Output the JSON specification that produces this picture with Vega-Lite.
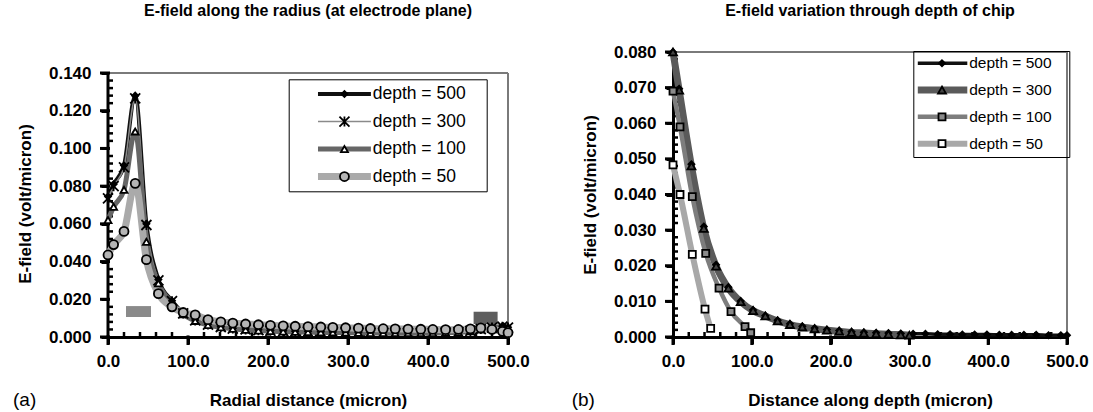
{
  "$schema": "https://vega.github.io/schema/vega-lite/v6.json",
  "padding": {"left": 13, "top": 3, "right": 5, "bottom": 5},
  "spacing": 41,
  "resolve": {"scale": {"color": "independent", "strokeWidth": "independent", "shape": "independent", "fill": "independent", "size": "independent"}, "legend": {"color": "independent", "strokeWidth": "independent", "shape": "independent", "fill": "independent", "size": "independent"}},
  "config": {
    "view": {"stroke": null},
    "font": "Liberation Sans",
    "axis": {"ticks": true, "domainColor": "black", "domainWidth": 3, "tickColor": "black", "tickOpacity": 1, "tickWidth": 3, "tickSize": 7, "labelFont": "Liberation Sans", "labelFontSize": 17, "labelFontWeight": "bold", "labelColor": "black", "titleFont": "Liberation Sans", "titleFontSize": 17, "titleFontWeight": "bold", "titleColor": "black", "grid": false, "labelFlush": false, "labelOverlap": false},
    "axisX": {"labelPadding": 9, "titlePadding": 23},
    "axisY": {"labelPadding": 10, "titlePadding": 14},
    "title": {"font": "Liberation Sans", "fontSize": 16, "fontWeight": "bold", "color": "black", "frame": "group", "anchor": "middle"}
  },
  "datasets": {
    "xMajor": [{"v":0},{"v":100},{"v":200},{"v":300},{"v":400},{"v":500}],
    "xMinor": [{"v":20},{"v":40},{"v":60},{"v":80},{"v":120},{"v":140},{"v":160},{"v":180},{"v":220},{"v":240},{"v":260},{"v":280},{"v":320},{"v":340},{"v":360},{"v":380},{"v":420},{"v":440},{"v":460},{"v":480}],
    "yLeftMajor": [{"v":0},{"v":0.02},{"v":0.04},{"v":0.06},{"v":0.08},{"v":0.1},{"v":0.12},{"v":0.14}],
    "yLeftMinor": [{"v":0.004},{"v":0.008},{"v":0.012},{"v":0.016},{"v":0.024},{"v":0.028},{"v":0.032},{"v":0.036},{"v":0.044},{"v":0.048},{"v":0.052},{"v":0.056},{"v":0.064},{"v":0.068},{"v":0.072},{"v":0.076},{"v":0.084},{"v":0.088},{"v":0.092},{"v":0.096},{"v":0.104},{"v":0.108},{"v":0.112},{"v":0.116},{"v":0.124},{"v":0.128},{"v":0.132},{"v":0.136}],
    "yRightMajor": [{"v":0},{"v":0.01},{"v":0.02},{"v":0.03},{"v":0.04},{"v":0.05},{"v":0.06},{"v":0.07},{"v":0.08}],
    "yRightMinor": [{"v":0.002},{"v":0.004},{"v":0.006},{"v":0.008},{"v":0.012},{"v":0.014},{"v":0.016},{"v":0.018},{"v":0.022},{"v":0.024},{"v":0.026},{"v":0.028},{"v":0.032},{"v":0.034},{"v":0.036},{"v":0.038},{"v":0.042},{"v":0.044},{"v":0.046},{"v":0.048},{"v":0.052},{"v":0.054},{"v":0.056},{"v":0.058},{"v":0.062},{"v":0.064},{"v":0.066},{"v":0.068},{"v":0.072},{"v":0.074},{"v":0.076},{"v":0.078}],
    "radial": [
      {"series":"depth = 500","depth":500,"x":0,"y":0.0745},{"series":"depth = 500","depth":500,"x":7,"y":0.081},{"series":"depth = 500","depth":500,"x":20,"y":0.091},{"series":"depth = 500","depth":500,"x":34,"y":0.128},{"series":"depth = 500","depth":500,"x":48,"y":0.060},{"series":"depth = 500","depth":500,"x":63,"y":0.0305},{"series":"depth = 500","depth":500,"x":80,"y":0.0192},{"series":"depth = 500","depth":500,"x":94,"y":0.0127},{"series":"depth = 500","depth":500,"x":109,"y":0.0090},{"series":"depth = 500","depth":500,"x":125,"y":0.0068},{"series":"depth = 500","depth":500,"x":141,"y":0.0055},{"series":"depth = 500","depth":500,"x":156,"y":0.0047},{"series":"depth = 500","depth":500,"x":172,"y":0.0042},{"series":"depth = 500","depth":500,"x":188,"y":0.0038},{"series":"depth = 500","depth":500,"x":203,"y":0.0035},{"series":"depth = 500","depth":500,"x":219,"y":0.0033},{"series":"depth = 500","depth":500,"x":234,"y":0.0031},{"series":"depth = 500","depth":500,"x":250,"y":0.0029},{"series":"depth = 500","depth":500,"x":266,"y":0.0028},{"series":"depth = 500","depth":500,"x":281,"y":0.0027},{"series":"depth = 500","depth":500,"x":297,"y":0.0026},{"series":"depth = 500","depth":500,"x":313,"y":0.0025},{"series":"depth = 500","depth":500,"x":328,"y":0.0024},{"series":"depth = 500","depth":500,"x":344,"y":0.0024},{"series":"depth = 500","depth":500,"x":359,"y":0.0023},{"series":"depth = 500","depth":500,"x":375,"y":0.0023},{"series":"depth = 500","depth":500,"x":391,"y":0.0023},{"series":"depth = 500","depth":500,"x":406,"y":0.0024},{"series":"depth = 500","depth":500,"x":422,"y":0.0025},{"series":"depth = 500","depth":500,"x":438,"y":0.0028},{"series":"depth = 500","depth":500,"x":453,"y":0.0034},{"series":"depth = 500","depth":500,"x":466,"y":0.0044},{"series":"depth = 500","depth":500,"x":480,"y":0.0052},{"series":"depth = 500","depth":500,"x":493,"y":0.0057},{"series":"depth = 500","depth":500,"x":500,"y":0.0052},
      {"series":"depth = 300","depth":300,"x":0,"y":0.0735},{"series":"depth = 300","depth":300,"x":7,"y":0.080},{"series":"depth = 300","depth":300,"x":20,"y":0.090},{"series":"depth = 300","depth":300,"x":34,"y":0.1265},{"series":"depth = 300","depth":300,"x":48,"y":0.0594},{"series":"depth = 300","depth":300,"x":63,"y":0.030},{"series":"depth = 300","depth":300,"x":80,"y":0.019},{"series":"depth = 300","depth":300,"x":94,"y":0.0125},{"series":"depth = 300","depth":300,"x":109,"y":0.0088},{"series":"depth = 300","depth":300,"x":125,"y":0.0066},{"series":"depth = 300","depth":300,"x":141,"y":0.0053},{"series":"depth = 300","depth":300,"x":156,"y":0.0045},{"series":"depth = 300","depth":300,"x":172,"y":0.0040},{"series":"depth = 300","depth":300,"x":188,"y":0.0036},{"series":"depth = 300","depth":300,"x":203,"y":0.0033},{"series":"depth = 300","depth":300,"x":219,"y":0.0031},{"series":"depth = 300","depth":300,"x":234,"y":0.0029},{"series":"depth = 300","depth":300,"x":250,"y":0.0027},{"series":"depth = 300","depth":300,"x":266,"y":0.0026},{"series":"depth = 300","depth":300,"x":281,"y":0.0025},{"series":"depth = 300","depth":300,"x":297,"y":0.0024},{"series":"depth = 300","depth":300,"x":313,"y":0.0023},{"series":"depth = 300","depth":300,"x":328,"y":0.0022},{"series":"depth = 300","depth":300,"x":344,"y":0.0022},{"series":"depth = 300","depth":300,"x":359,"y":0.0021},{"series":"depth = 300","depth":300,"x":375,"y":0.0021},{"series":"depth = 300","depth":300,"x":391,"y":0.0021},{"series":"depth = 300","depth":300,"x":406,"y":0.0022},{"series":"depth = 300","depth":300,"x":422,"y":0.0023},{"series":"depth = 300","depth":300,"x":438,"y":0.0026},{"series":"depth = 300","depth":300,"x":453,"y":0.0032},{"series":"depth = 300","depth":300,"x":466,"y":0.0042},{"series":"depth = 300","depth":300,"x":480,"y":0.0050},{"series":"depth = 300","depth":300,"x":493,"y":0.0055},{"series":"depth = 300","depth":300,"x":500,"y":0.0050},
      {"series":"depth = 100","depth":100,"x":0,"y":0.062},{"series":"depth = 100","depth":100,"x":7,"y":0.069},{"series":"depth = 100","depth":100,"x":20,"y":0.078},{"series":"depth = 100","depth":100,"x":34,"y":0.109},{"series":"depth = 100","depth":100,"x":48,"y":0.0505},{"series":"depth = 100","depth":100,"x":63,"y":0.0285},{"series":"depth = 100","depth":100,"x":80,"y":0.018},{"series":"depth = 100","depth":100,"x":94,"y":0.012},{"series":"depth = 100","depth":100,"x":109,"y":0.0085},{"series":"depth = 100","depth":100,"x":125,"y":0.0063},{"series":"depth = 100","depth":100,"x":141,"y":0.0051},{"series":"depth = 100","depth":100,"x":156,"y":0.0043},{"series":"depth = 100","depth":100,"x":172,"y":0.0038},{"series":"depth = 100","depth":100,"x":188,"y":0.0034},{"series":"depth = 100","depth":100,"x":203,"y":0.0031},{"series":"depth = 100","depth":100,"x":219,"y":0.0029},{"series":"depth = 100","depth":100,"x":234,"y":0.0027},{"series":"depth = 100","depth":100,"x":250,"y":0.0026},{"series":"depth = 100","depth":100,"x":266,"y":0.0025},{"series":"depth = 100","depth":100,"x":281,"y":0.0024},{"series":"depth = 100","depth":100,"x":297,"y":0.0023},{"series":"depth = 100","depth":100,"x":313,"y":0.0022},{"series":"depth = 100","depth":100,"x":328,"y":0.0021},{"series":"depth = 100","depth":100,"x":344,"y":0.0021},{"series":"depth = 100","depth":100,"x":359,"y":0.0020},{"series":"depth = 100","depth":100,"x":375,"y":0.0020},{"series":"depth = 100","depth":100,"x":391,"y":0.0020},{"series":"depth = 100","depth":100,"x":406,"y":0.0021},{"series":"depth = 100","depth":100,"x":422,"y":0.0022},{"series":"depth = 100","depth":100,"x":438,"y":0.0025},{"series":"depth = 100","depth":100,"x":453,"y":0.0030},{"series":"depth = 100","depth":100,"x":466,"y":0.0040},{"series":"depth = 100","depth":100,"x":480,"y":0.0048},{"series":"depth = 100","depth":100,"x":493,"y":0.0052},{"series":"depth = 100","depth":100,"x":500,"y":0.0047},
      {"series":"depth = 50","depth":50,"x":0,"y":0.0435},{"series":"depth = 50","depth":50,"x":7,"y":0.049},{"series":"depth = 50","depth":50,"x":20,"y":0.056},{"series":"depth = 50","depth":50,"x":34,"y":0.0815},{"series":"depth = 50","depth":50,"x":48,"y":0.041},{"series":"depth = 50","depth":50,"x":63,"y":0.023},{"series":"depth = 50","depth":50,"x":80,"y":0.016},{"series":"depth = 50","depth":50,"x":94,"y":0.013},{"series":"depth = 50","depth":50,"x":109,"y":0.0117},{"series":"depth = 50","depth":50,"x":125,"y":0.0092},{"series":"depth = 50","depth":50,"x":141,"y":0.0080},{"series":"depth = 50","depth":50,"x":156,"y":0.0074},{"series":"depth = 50","depth":50,"x":172,"y":0.0069},{"series":"depth = 50","depth":50,"x":188,"y":0.0065},{"series":"depth = 50","depth":50,"x":203,"y":0.0062},{"series":"depth = 50","depth":50,"x":219,"y":0.0059},{"series":"depth = 50","depth":50,"x":234,"y":0.0057},{"series":"depth = 50","depth":50,"x":250,"y":0.0055},{"series":"depth = 50","depth":50,"x":266,"y":0.0053},{"series":"depth = 50","depth":50,"x":281,"y":0.0051},{"series":"depth = 50","depth":50,"x":297,"y":0.0049},{"series":"depth = 50","depth":50,"x":313,"y":0.0047},{"series":"depth = 50","depth":50,"x":328,"y":0.0045},{"series":"depth = 50","depth":50,"x":344,"y":0.0044},{"series":"depth = 50","depth":50,"x":359,"y":0.0043},{"series":"depth = 50","depth":50,"x":375,"y":0.0042},{"series":"depth = 50","depth":50,"x":391,"y":0.0041},{"series":"depth = 50","depth":50,"x":406,"y":0.0040},{"series":"depth = 50","depth":50,"x":422,"y":0.0039},{"series":"depth = 50","depth":50,"x":438,"y":0.0040},{"series":"depth = 50","depth":50,"x":453,"y":0.0043},{"series":"depth = 50","depth":50,"x":466,"y":0.0048},{"series":"depth = 50","depth":50,"x":480,"y":0.0040},{"series":"depth = 50","depth":50,"x":493,"y":0.0030},{"series":"depth = 50","depth":50,"x":500,"y":0.0023}
    ],
    "through": [
      {"series":"depth = 500","depth":500,"x":0,"y":0.080},{"series":"depth = 500","depth":500,"x":7.8,"y":0.0697},{"series":"depth = 500","depth":500,"x":23.4,"y":0.0485},{"series":"depth = 500","depth":500,"x":39.1,"y":0.031},{"series":"depth = 500","depth":500,"x":54.7,"y":0.0203},{"series":"depth = 500","depth":500,"x":70.3,"y":0.0140},{"series":"depth = 500","depth":500,"x":85.9,"y":0.0101},{"series":"depth = 500","depth":500,"x":101.6,"y":0.0076},{"series":"depth = 500","depth":500,"x":117.2,"y":0.0060},{"series":"depth = 500","depth":500,"x":132.8,"y":0.0047},{"series":"depth = 500","depth":500,"x":148.4,"y":0.0037},{"series":"depth = 500","depth":500,"x":164.1,"y":0.0030},{"series":"depth = 500","depth":500,"x":179.7,"y":0.0025},{"series":"depth = 500","depth":500,"x":195.3,"y":0.0021},{"series":"depth = 500","depth":500,"x":210.9,"y":0.0018},{"series":"depth = 500","depth":500,"x":226.6,"y":0.0015},{"series":"depth = 500","depth":500,"x":242.2,"y":0.0013},{"series":"depth = 500","depth":500,"x":257.8,"y":0.0012},{"series":"depth = 500","depth":500,"x":273.4,"y":0.0011},{"series":"depth = 500","depth":500,"x":289.1,"y":0.0010},{"series":"depth = 500","depth":500,"x":304.7,"y":0.0009},{"series":"depth = 500","depth":500,"x":320.3,"y":0.0009},{"series":"depth = 500","depth":500,"x":335.9,"y":0.0008},{"series":"depth = 500","depth":500,"x":351.6,"y":0.0008},{"series":"depth = 500","depth":500,"x":367.2,"y":0.0007},{"series":"depth = 500","depth":500,"x":382.8,"y":0.0007},{"series":"depth = 500","depth":500,"x":398.4,"y":0.0007},{"series":"depth = 500","depth":500,"x":414.1,"y":0.0006},{"series":"depth = 500","depth":500,"x":429.7,"y":0.0006},{"series":"depth = 500","depth":500,"x":445.3,"y":0.0006},{"series":"depth = 500","depth":500,"x":460.9,"y":0.0006},{"series":"depth = 500","depth":500,"x":476.6,"y":0.0005},{"series":"depth = 500","depth":500,"x":492.2,"y":0.0005},{"series":"depth = 500","depth":500,"x":500,"y":0.0005},
      {"series":"depth = 300","depth":300,"x":0,"y":0.080},{"series":"depth = 300","depth":300,"x":7.8,"y":0.0693},{"series":"depth = 300","depth":300,"x":23.4,"y":0.048},{"series":"depth = 300","depth":300,"x":39.1,"y":0.0305},{"series":"depth = 300","depth":300,"x":54.7,"y":0.0199},{"series":"depth = 300","depth":300,"x":70.3,"y":0.0137},{"series":"depth = 300","depth":300,"x":85.9,"y":0.0099},{"series":"depth = 300","depth":300,"x":101.6,"y":0.0074},{"series":"depth = 300","depth":300,"x":117.2,"y":0.0059},{"series":"depth = 300","depth":300,"x":132.8,"y":0.0045},{"series":"depth = 300","depth":300,"x":148.4,"y":0.0035},{"series":"depth = 300","depth":300,"x":164.1,"y":0.0028},{"series":"depth = 300","depth":300,"x":179.7,"y":0.0023},{"series":"depth = 300","depth":300,"x":195.3,"y":0.0019},{"series":"depth = 300","depth":300,"x":210.9,"y":0.0016},{"series":"depth = 300","depth":300,"x":226.6,"y":0.0013},{"series":"depth = 300","depth":300,"x":242.2,"y":0.0011},{"series":"depth = 300","depth":300,"x":257.8,"y":0.0009},{"series":"depth = 300","depth":300,"x":273.4,"y":0.0008},{"series":"depth = 300","depth":300,"x":289.1,"y":0.0006},{"series":"depth = 300","depth":300,"x":300,"y":0.0005},
      {"series":"depth = 100","depth":100,"x":0,"y":0.069},{"series":"depth = 100","depth":100,"x":8.9,"y":0.059},{"series":"depth = 100","depth":100,"x":24.5,"y":0.0394},{"series":"depth = 100","depth":100,"x":41.5,"y":0.0235},{"series":"depth = 100","depth":100,"x":58.4,"y":0.0137},{"series":"depth = 100","depth":100,"x":73.6,"y":0.0071},{"series":"depth = 100","depth":100,"x":91.4,"y":0.0029},{"series":"depth = 100","depth":100,"x":98.6,"y":0.0012},
      {"series":"depth = 50","depth":50,"x":0,"y":0.0483},{"series":"depth = 50","depth":50,"x":8.9,"y":0.040},{"series":"depth = 50","depth":50,"x":24.5,"y":0.0232},{"series":"depth = 50","depth":50,"x":40.6,"y":0.0078},{"series":"depth = 50","depth":50,"x":47.8,"y":0.0024}
    ]
  },
  "hconcat": [
    {
      "width": 400,
      "height": 285,
      "title": {"text": "E-field along the radius (at electrode plane)", "offset": 33},
      "resolve": {"axis": {"x": "independent", "y": "independent"}},
      "layer": [
        {
          "data": {"values": [{"x": 22.5, "x2": 53.75, "y": 0.0106, "y2": 0.0164}]},
          "mark": {"type": "rect", "fill": "#8a8a8a"},
          "encoding": {
            "x": {"field": "x", "type": "quantitative", "axis": null}, "x2": {"field": "x2"},
            "y": {"field": "y", "type": "quantitative", "axis": null}, "y2": {"field": "y2"}
          }
        },
        {
          "data": {"values": [{"x": 457, "x2": 487, "y": 0.0069, "y2": 0.0134}]},
          "mark": {"type": "rect", "fill": "#5e5e5e"},
          "encoding": {
            "x": {"field": "x", "type": "quantitative", "axis": null}, "x2": {"field": "x2"},
            "y": {"field": "y", "type": "quantitative", "axis": null}, "y2": {"field": "y2"}
          }
        },
        {
          "data": {"values": [{"x": 0, "x2": 500, "y": 0.14, "y2": 0.14}, {"x": 500, "x2": 500, "y": 0, "y2": 0.14}]},
          "mark": {"type": "rule", "stroke": "#7a7a7a", "strokeWidth": 2},
          "encoding": {
            "x": {"field": "x", "type": "quantitative", "axis": null}, "x2": {"field": "x2"},
            "y": {"field": "y", "type": "quantitative", "axis": null}, "y2": {"field": "y2"}
          }
        },
        {
          "data": {"values": [{"x": 0, "y": 0, "y2": 0.14}]},
          "mark": {"type": "rule", "stroke": "black", "strokeWidth": 3},
          "encoding": {
            "x": {"field": "x", "type": "quantitative", "axis": null},
            "y": {"field": "y", "type": "quantitative", "axis": null}, "y2": {"field": "y2"}
          }
        },
        {
          "data": {"name": "xMajor"},
          "mark": {"type": "point", "shape": "M0,-0.2L0,1", "size": 256, "filled": false, "stroke": "black", "strokeWidth": 3, "opacity": 1},
          "encoding": {
            "x": {"field": "v", "type": "quantitative", "axis": null},
            "y": {"datum": 0, "type": "quantitative", "axis": null}
          }
        },
        {
          "data": {"name": "xMinor"},
          "mark": {"type": "point", "shape": "M0,0L0,-1", "size": 100, "filled": false, "stroke": "black", "strokeWidth": 2.5, "opacity": 1},
          "encoding": {
            "x": {"field": "v", "type": "quantitative", "axis": null},
            "y": {"datum": 0, "type": "quantitative", "axis": null}
          }
        },
        {
          "data": {"name": "yLeftMajor"},
          "mark": {"type": "point", "shape": "M-1,0L0.25,0", "size": 256, "filled": false, "stroke": "black", "strokeWidth": 3, "opacity": 1},
          "encoding": {
            "y": {"field": "v", "type": "quantitative", "axis": null},
            "x": {"datum": 0, "type": "quantitative", "axis": null}
          }
        },
        {
          "data": {"name": "yLeftMinor"},
          "mark": {"type": "point", "shape": "M0,0L1,0", "size": 100, "filled": false, "stroke": "black", "strokeWidth": 2.5, "opacity": 1},
          "encoding": {
            "y": {"field": "v", "type": "quantitative", "axis": null},
            "x": {"datum": 0, "type": "quantitative", "axis": null}
          }
        },
        {
          "data": {"name": "radial"},
          "mark": {"type": "line", "interpolate": "monotone"},
          "encoding": {
            "x": {"field": "x", "type": "quantitative", "scale": {"domain": [0, 500], "nice": false, "zero": false}, "axis": {"orient": "bottom", "ticks": true, "tickSize": 7, "values": [0,100,200,300,400,500], "format": ".1f", "title": "Radial distance (micron)"}},
            "y": {"field": "y", "type": "quantitative", "scale": {"domain": [0, 0.15114], "nice": false}, "axis": {"orient": "left", "ticks": true, "tickSize": 7, "values": [0,0.02,0.04,0.06,0.08,0.1,0.12,0.14], "format": ".3f", "domain": false, "title": "E-field (volt/micron)", "titleY": 151.5}},
            "color": {"field": "series", "type": "nominal", "scale": {"domain": ["depth = 500","depth = 300","depth = 100","depth = 50"], "range": ["#111111","#8a8a8a","#666666","#aaaaaa"]},
              "legend": {"orient": "none", "legendX": 180.7, "legendY": 27.3, "title": "ii", "titleOrient": "right", "titleOpacity": 0, "titleFontSize": 17.5, "titlePadding": 5, "padding": 6, "rowPadding": 8.5, "clipHeight": 17.5, "symbolType": "M-10,0L10,0", "symbolSize": 28, "symbolOffset": 41, "labelOffset": 19.5, "labelFontSize": 17.5, "labelFont": "Liberation Sans", "labelColor": "black", "strokeColor": "black"}},
            "strokeWidth": {"field": "series", "type": "nominal", "scale": {"type": "ordinal", "domain": ["depth = 500","depth = 300","depth = 100","depth = 50"], "range": [4, 1.5, 5, 7]}}
          }
        },
        {
          "data": {"name": "radial"},
          "mark": {"type": "point", "filled": true, "stroke": "black", "strokeWidth": 1.8, "opacity": 1},
          "encoding": {
            "x": {"field": "x", "type": "quantitative", "axis": null},
            "y": {"field": "y", "type": "quantitative", "axis": null},
            "shape": {"field": "depth", "type": "nominal", "scale": {"domain": [500,300,100,50], "range": ["diamond", "M-1,-1L1,1M-1,1L1,-1M0,-1L0,1", "triangle-up", "circle"]},
              "legend": {"orient": "none", "legendX": 180.7, "legendY": 27.3, "title": null, "padding": 6, "rowPadding": 8.5, "clipHeight": 17.5, "symbolOffset": 41, "labelFontSize": 17.5, "labelOpacity": 0, "symbolStrokeColor": "black", "symbolStrokeWidth": 1.8}},
            "fill": {"field": "depth", "type": "nominal", "scale": {"domain": [500,300,100,50], "range": ["black", "black", "white", "#b5b5b5"]}},
            "size": {"field": "depth", "type": "nominal", "scale": {"type": "ordinal", "domain": [500,300,100,50], "range": [36, 100, 49, 81]}}
          }
        },
        {
          "data": {"values": [{"tag": "(a)"}]},
          "mark": {"type": "text", "align": "left", "baseline": "middle", "fontSize": 19, "font": "Liberation Sans", "color": "black"},
          "encoding": {
            "x": {"datum": -118.75, "type": "quantitative", "axis": null},
            "y": {"datum": -0.0334, "type": "quantitative", "axis": null},
            "text": {"field": "tag"}
          }
        }
      ]
    },
    {
      "width": 394,
      "height": 285,
      "title": {"text": "E-field variation through depth of chip", "offset": 19},
      "resolve": {"axis": {"x": "independent", "y": "independent"}},
      "layer": [
        {
          "data": {"values": [{"x": 0, "x2": 500, "y": 0.08, "y2": 0.08}, {"x": 500, "x2": 500, "y": 0, "y2": 0.08}]},
          "mark": {"type": "rule", "stroke": "#7a7a7a", "strokeWidth": 2},
          "encoding": {
            "x": {"field": "x", "type": "quantitative", "axis": null}, "x2": {"field": "x2"},
            "y": {"field": "y", "type": "quantitative", "axis": null}, "y2": {"field": "y2"}
          }
        },
        {
          "data": {"name": "xMajor"},
          "mark": {"type": "point", "shape": "M0,-0.2L0,1", "size": 256, "filled": false, "stroke": "black", "strokeWidth": 3, "opacity": 1},
          "encoding": {
            "x": {"field": "v", "type": "quantitative", "axis": null},
            "y": {"datum": 0, "type": "quantitative", "axis": null}
          }
        },
        {
          "data": {"name": "xMinor"},
          "mark": {"type": "point", "shape": "M0,0L0,-1", "size": 100, "filled": false, "stroke": "black", "strokeWidth": 2.5, "opacity": 1},
          "encoding": {
            "x": {"field": "v", "type": "quantitative", "axis": null},
            "y": {"datum": 0, "type": "quantitative", "axis": null}
          }
        },
        {
          "data": {"name": "yRightMajor"},
          "mark": {"type": "point", "shape": "M-1,0L0.25,0", "size": 256, "filled": false, "stroke": "black", "strokeWidth": 3, "opacity": 1},
          "encoding": {
            "y": {"field": "v", "type": "quantitative", "axis": null},
            "x": {"datum": 0, "type": "quantitative", "axis": null}
          }
        },
        {
          "data": {"name": "yRightMinor"},
          "mark": {"type": "point", "shape": "M0,0L1,0", "size": 100, "filled": false, "stroke": "black", "strokeWidth": 2.5, "opacity": 1},
          "encoding": {
            "y": {"field": "v", "type": "quantitative", "axis": null},
            "x": {"datum": 0, "type": "quantitative", "axis": null}
          }
        },
        {
          "data": {"name": "through"},
          "mark": {"type": "line", "interpolate": "monotone"},
          "encoding": {
            "x": {"field": "x", "type": "quantitative", "scale": {"domain": [0, 500], "nice": false, "zero": false}, "axis": {"orient": "bottom", "ticks": true, "tickSize": 7, "values": [0,100,200,300,400,500], "format": ".1f", "title": "Distance along depth (micron)"}},
            "y": {"field": "y", "type": "quantitative", "scale": {"domain": [0, 0.08], "nice": false}, "axis": {"orient": "left", "ticks": true, "tickSize": 7, "values": [0,0.01,0.02,0.03,0.04,0.05,0.06,0.07,0.08], "format": ".3f", "title": "E-field (volt/micron)"}},
            "color": {"field": "series", "type": "nominal", "scale": {"domain": ["depth = 500","depth = 300","depth = 100","depth = 50"], "range": ["#111111","#5a5a5a","#7d7d7d","#a8a8a8"]},
              "legend": {"orient": "none", "legendX": 240.3, "legendY": -1, "title": "i", "titleOrient": "right", "titleOpacity": 0, "titleFontSize": 15.5, "titlePadding": 8, "padding": 4.5, "rowPadding": 9.8, "clipHeight": 15.5, "symbolType": "M-10,0L10,0", "symbolSize": 25.6, "symbolOffset": 16.45, "labelOffset": 19.5, "labelFontSize": 15.5, "labelFont": "Liberation Sans", "labelColor": "black", "strokeColor": "black"}},
            "strokeWidth": {"field": "series", "type": "nominal", "scale": {"type": "ordinal", "domain": ["depth = 500","depth = 300","depth = 100","depth = 50"], "range": [3.5, 7, 4.5, 6]}}
          }
        },
        {
          "data": {"name": "through"},
          "mark": {"type": "point", "filled": true, "stroke": "black", "strokeWidth": 1.8, "opacity": 1},
          "encoding": {
            "x": {"field": "x", "type": "quantitative", "axis": null},
            "y": {"field": "y", "type": "quantitative", "axis": null},
            "shape": {"field": "depth", "type": "nominal", "scale": {"domain": [500,300,100,50], "range": ["diamond", "triangle-up", "square", "square"]},
              "legend": {"orient": "none", "legendX": 240.3, "legendY": -1, "title": null, "padding": 4.5, "rowPadding": 9.8, "clipHeight": 15.5, "symbolOffset": 16.45, "labelFontSize": 15.5, "labelOpacity": 0, "symbolStrokeColor": "black", "symbolStrokeWidth": 1.8}},
            "fill": {"field": "depth", "type": "nominal", "scale": {"domain": [500,300,100,50], "range": ["black", "#444444", "#8a8a8a", "white"]}},
            "size": {"field": "depth", "type": "nominal", "scale": {"type": "ordinal", "domain": [500,300,100,50], "range": [36, 64, 49, 49]}}
          }
        },
        {
          "data": {"values": [{"tag": "(b)"}]},
          "mark": {"type": "text", "align": "left", "baseline": "middle", "fontSize": 19, "font": "Liberation Sans", "color": "black"},
          "encoding": {
            "x": {"datum": -128.6, "type": "quantitative", "axis": null},
            "y": {"datum": -0.01768, "type": "quantitative", "axis": null},
            "text": {"field": "tag"}
          }
        }
      ]
    }
  ]
}
